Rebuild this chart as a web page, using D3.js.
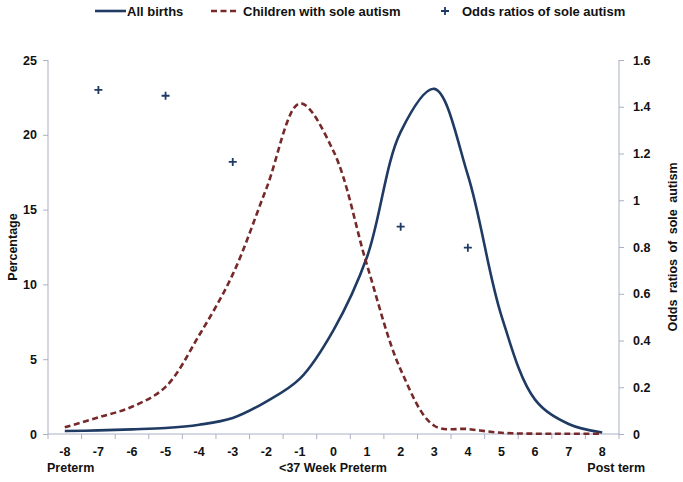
<!DOCTYPE html>
<html><head><meta charset="utf-8">
<script src="https://cdn.jsdelivr.net/npm/d3@7"></script>
<style>
html,body{margin:0;padding:0;background:#fff;}
text{font-family:"Liberation Sans",Arial,sans-serif;}
</style></head>
<body><svg id="c" width="683" height="482"></svg>
<script>
const weeks = [-8,-7,-6,-5,-4,-3,-2,-1,0,1,2,3,4,5,6,7,8];
const allBirths = [0.2,0.24,0.31,0.4,0.62,1.07,2.17,3.7,6.95,11.85,20.2,23.07,17.3,7.9,2.3,0.67,0.1];
const soleAutism = [0.45,1.11,1.82,3.15,6.6,10.67,16.4,22.1,18.9,11.27,4.3,0.55,0.33,0.08,0.02,0.02,0.02];
const oddsWeeks = [-7,-5,-3,2,4];
const oddsRatios = [1.472,1.447,1.164,0.887,0.797];
const leftTicks = [0,5,10,15,20,25];
const rightTicks = [0,0.2,0.4,0.6,0.8,1,1.2,1.4,1.6];
const seriesNames = ["All births","Children with sole autism","Odds ratios of sole autism"];

(function(){
const navy = "#1f3a63", red = "#76292a", axisCol = "#a9b0c6";
const svg = d3.select("#c");
const mL = 48, mR = 619, mT = 60, mB = 434;

const x = d3.scaleBand().domain(weeks).range([mL,mR]).padding(0);
const xc = d => x(d) + x.bandwidth()/2;
const yL = d3.scaleLinear().domain([0,25]).range([mB,mT]);
const yR = d3.scaleLinear().domain([0,1.6]).range([mB,mT]);

const gl = svg.append("g").attr("transform",`translate(${mL},0)`)
  .call(d3.axisLeft(yL).tickValues(leftTicks).tickSize(5).tickPadding(6).tickFormat(d3.format("d")));
const gr = svg.append("g").attr("transform",`translate(${mR},0)`)
  .call(d3.axisRight(yR).tickValues(rightTicks).tickSize(5).tickPadding(9).tickFormat(d => d===0?"0":d3.format("")(d)));
const gb = svg.append("g").attr("transform",`translate(0,${mB})`)
  .call(d3.axisBottom(x).tickSize(0).tickPadding(13));
[gl,gr,gb].forEach(g=>{
  g.select(".domain").attr("stroke",axisCol).attr("stroke-width",1);
  g.selectAll(".tick line").attr("stroke",axisCol);
  g.selectAll("text").attr("font-size","12.5px").attr("font-weight","bold").attr("fill","#111");
});
gl.select(".domain").attr("d",`M0,${mT}V${mB}`);
gr.select(".domain").attr("d",`M0,${mT}V${mB}`);
gb.select(".domain").attr("d",`M${mL},0H${mR}`);
const bounds = weeks.map(w=>x(w)).concat([mR]);
gb.selectAll("line.bt").data(bounds).enter().append("line").attr("class","bt")
  .attr("x1",d=>d).attr("x2",d=>d).attr("y1",0).attr("y2",5).attr("stroke",axisCol);

const lineL = d3.line().x((d,i)=>xc(weeks[i])).y(d=>yL(d)).curve(d3.curveCatmullRom.alpha(0.5));
svg.append("path").datum(allBirths).attr("d",lineL).attr("fill","none")
  .attr("stroke",navy).attr("stroke-width",2.6);
svg.append("path").datum(soleAutism).attr("d",lineL).attr("fill","none")
  .attr("stroke",red).attr("stroke-width",2.6).attr("stroke-dasharray","6,3.5");

const pts = svg.append("g");
oddsRatios.forEach((v,i)=>{
  const px = xc(oddsWeeks[i]), py = yR(v);
  pts.append("path").attr("d",`M${px-4},${py}H${px+4}M${px},${py-4}V${py+4}`)
    .attr("stroke",navy).attr("stroke-width",1.8);
});

svg.append("text").attr("transform","translate(17,247) rotate(-90)").attr("text-anchor","middle")
  .attr("font-size","12.5px").attr("font-weight","bold").attr("fill","#111").text("Percentage");
svg.append("text").attr("transform","translate(677,247) rotate(-90)").attr("text-anchor","middle")
  .attr("font-size","12.5px").attr("font-weight","bold").attr("fill","#111").attr("word-spacing","3px")
  .text("Odds ratios of sole autism");
svg.append("text").attr("x",47).attr("y",472).attr("font-size","12.5px").attr("font-weight","bold").attr("fill","#111").text("Preterm");
svg.append("text").attr("x",333).attr("y",472).attr("text-anchor","middle").attr("font-size","12.5px").attr("font-weight","bold").attr("fill","#111").text("<37 Week Preterm");
svg.append("text").attr("x",645).attr("y",472).attr("text-anchor","end").attr("font-size","12.5px").attr("font-weight","bold").attr("fill","#111").text("Post term");

const lg = svg.append("g");
lg.append("line").attr("x1",95).attr("x2",126).attr("y1",11).attr("y2",11).attr("stroke",navy).attr("stroke-width",2.6);
lg.append("text").attr("x",127).attr("y",15.5).text(seriesNames[0]);
lg.append("line").attr("x1",211).attr("x2",238).attr("y1",11).attr("y2",11).attr("stroke",red).attr("stroke-width",2.6).attr("stroke-dasharray","6,3.5");
lg.append("text").attr("x",243).attr("y",15.5).text(seriesNames[1]);
lg.append("path").attr("d","M441,11H449M445,7V15").attr("stroke",navy).attr("stroke-width",1.8);
lg.append("text").attr("x",462).attr("y",15.5).text(seriesNames[2]);
lg.selectAll("text").attr("font-size","13px").attr("font-weight","bold").attr("fill","#111");
})();
</script></body></html>
